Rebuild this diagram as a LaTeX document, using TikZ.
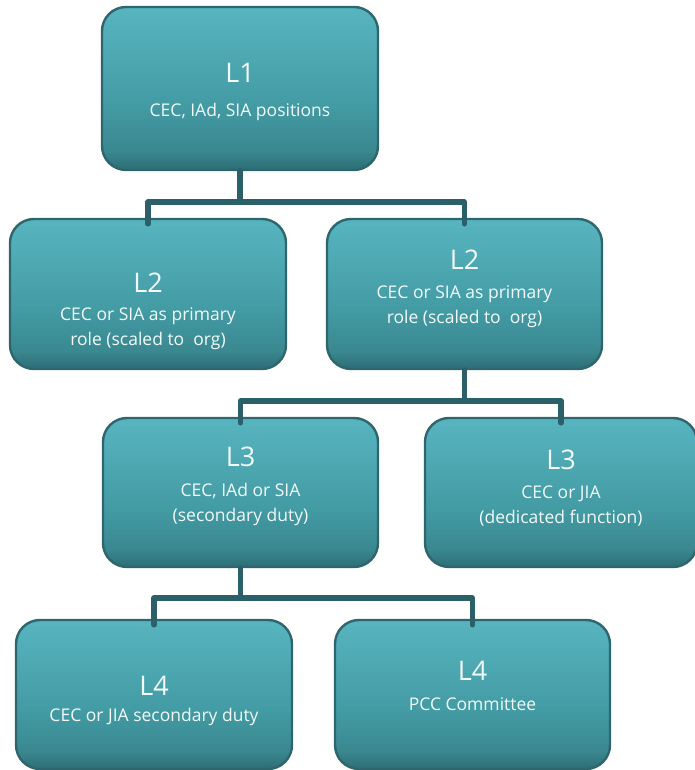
\documentclass[tikz,border=0pt]{standalone}
\usepackage{fontspec}
\setmainfont{Open Sans}
\usetikzlibrary{positioning}

\definecolor{tealtop}{HTML}{57B5C0}
\definecolor{tealmid}{HTML}{439BA4}
\definecolor{tealdark}{HTML}{3A8890}
\definecolor{tealbot}{HTML}{2D6D75}
\definecolor{tealline}{HTML}{2B6068}
\definecolor{tealedge}{HTML}{2F666D}
\definecolor{boxtext}{HTML}{F2FAFA}

\pgfdeclareverticalshading{tealfade}{100bp}{color(0bp)=(tealbot); color(25bp)=(tealbot);
  color(31bp)=(tealdark); color(45bp)=(tealmid); color(75bp)=(tealtop); color(100bp)=(tealtop)}

\tikzset{
  box/.style={draw=tealedge, line width=2.4pt, rounded corners=24pt, shading=tealfade,
    minimum width=275pt, minimum height=149pt, inner sep=0pt},
  title/.style={text=boxtext, font=\fontsize{27}{30}\selectfont, inner sep=0pt},
  sub/.style={text=boxtext, font=\fontsize{17.5}{25}\selectfont, align=center, inner sep=0pt},
  conn/.style={draw=tealline, line width=5.5pt, line cap=round, line join=round},
}

\begin{document}
\begin{tikzpicture}[x=1pt, y=1pt]
  \useasboundingbox (0,0) rectangle (695,770);

  % level 1
  \node[box, minimum width=276pt, minimum height=163pt] (l1) at (240,681.5) {};
  \node[title] (l1t) at (240,697) {L1};
  \node[sub] (l1s) at (240,658) {CEC, IAd, SIA positions};

  % level 2
  \node[box, minimum width=276pt, minimum height=150pt] (l2a) at (148,476) {};
  \node[title] (l2at) at (148,487) {L2};
  \node[sub] (l2as) at (148,441.5) {CEC or SIA as primary\\role (scaled to\ \ org)};

  \node[box, minimum height=150pt] (l2b) at (464.5,476) {};
  \node[title] (l2bt) at (464.5,510) {L2};
  \node[sub] (l2bs) at (464.5,463.5) {CEC or SIA as primary\\role (scaled to\ \ org)};

  % level 3
  \node[box] (l3a) at (240.5,277.5) {};
  \node[title] (l3at) at (240.5,313) {L3};
  \node[sub] (l3as) at (240.5,265.5) {CEC, IAd or SIA\\(secondary duty)};

  \node[box, minimum width=272pt] (l3b) at (561,277.5) {};
  \node[title] (l3bt) at (561,310) {L3};
  \node[sub] (l3bs) at (561,263.5) {CEC or JIA\\(dedicated function)};

  % level 4
  \node[box, minimum width=276pt] (l4a) at (154,75.5) {};
  \node[title] (l4at) at (154,84) {L4};
  \node[sub] (l4as) at (154,53) {CEC or JIA secondary duty};

  \node[box] (l4b) at (472.5,75.5) {};
  \node[title] (l4bt) at (472.5,99) {L4};
  \node[sub] (l4bs) at (472.5,66) {PCC Committee};

  % connectors
  \draw[conn] (l1.south) -- ++(0,-31) -| ([yshift=-6]l2a.north);
  \draw[conn] (l1.south) -- ++(0,-31) -| ([yshift=-6]l2b.north);
  \draw[conn] (l2b.south) -- ++(0,-31) -| ([yshift=-6]l3a.north);
  \draw[conn] (l2b.south) -- ++(0,-31) -| ([yshift=-6]l3b.north);
  \draw[conn] (l3a.south) -- ++(0,-30) -| ([yshift=-6]l4a.north);
  \draw[conn] (l3a.south) -- ++(0,-30) -| ([yshift=-6]l4b.north);
\end{tikzpicture}
\end{document}
